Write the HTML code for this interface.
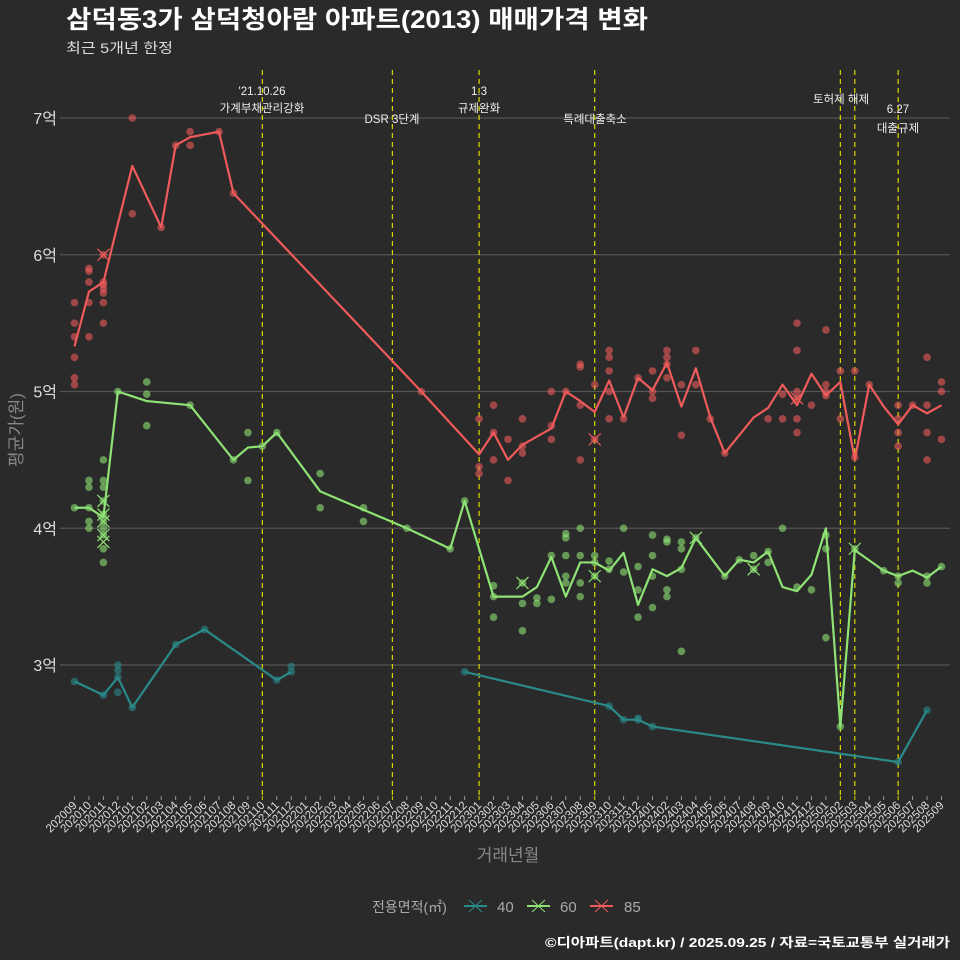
<!DOCTYPE html>
<html><head><meta charset="utf-8">
<style>
html,body{margin:0;padding:0;background:#2a2a2a;}
svg{display:block;font-family:"Liberation Sans","Noto Sans CJK KR",sans-serif;}
</style></head>
<body>
<svg id="chart" width="960" height="960" viewBox="0 0 960 960" xmlns="http://www.w3.org/2000/svg">
<rect width="960" height="960" fill="#2a2a2a"/>
<text x="66" y="28" fill="#fff" font-size="25" font-weight="bold" textLength="582" lengthAdjust="spacingAndGlyphs">삼덕동3가 삼덕청아람 아파트(2013) 매매가격 변화</text>
<text x="66" y="53" fill="#ddd" font-size="14" textLength="107" lengthAdjust="spacingAndGlyphs">최근 5개년 한정</text>
<g id="grid"></g>
<g id="vlines"></g>
<g id="series"></g>
<g id="xaxis"></g>
<text x="0" y="0" transform="translate(22,430) rotate(-90)" text-anchor="middle" fill="#888" font-size="17">평균가(원)</text>
<text x="508" y="861" text-anchor="middle" fill="#888" font-size="17">거래년월</text>
<g>
<text x="372" y="912" fill="#aaa" font-size="14">전용면적(㎡)</text>
<g><line x1="464" y1="906" x2="487" y2="906" stroke="#2a8a8a" stroke-width="2"/><line x1="469" y1="900" x2="482" y2="912" stroke="#2a8a8a"/><line x1="469" y1="912" x2="482" y2="900" stroke="#2a8a8a"/><text x="497" y="912" fill="#aaa" font-size="15">40</text></g>
<g><line x1="527" y1="906" x2="550" y2="906" stroke="#8fe375" stroke-width="2"/><line x1="532" y1="900" x2="545" y2="912" stroke="#8fe375"/><line x1="532" y1="912" x2="545" y2="900" stroke="#8fe375"/><text x="560" y="912" fill="#aaa" font-size="15">60</text></g>
<g><line x1="590" y1="906" x2="613" y2="906" stroke="#ef5b5b" stroke-width="2"/><line x1="595" y1="900" x2="608" y2="912" stroke="#ef5b5b"/><line x1="595" y1="912" x2="608" y2="900" stroke="#ef5b5b"/><text x="624" y="912" fill="#aaa" font-size="15">85</text></g>
</g>
<text x="545" y="947" fill="#fff" font-size="13" font-weight="bold" textLength="405" lengthAdjust="spacingAndGlyphs">©디아파트(dapt.kr) / 2025.09.25 / 자료=국토교통부 실거래가</text>
</svg>
<script>
const months=[];
for(let y=2020,m=9;months.length<61;){months.push(y+String(m).padStart(2,'0'));m++;if(m>12){m=1;y++;}}
const yTicks=[3,4,5,6,7];
const yTickLabels=['3억','4억','5억','6억','7억'];
const eventIdx=[13,22,28,36,53,54,57];
const line40aIdx=[0,2,3,4,7,9,14,15];
const line40aVal=[2.88,2.78,2.91,2.69,3.15,3.26,2.89,2.95];
const line40bIdx=[27,37,38,39,40,57,59];
const line40bVal=[2.95,2.70,2.60,2.60,2.55,2.29,2.67];
const pts40Idx=[0,2,3,3,3,3,4,7,9,14,15,15,27,37,38,39,39,40,57,59];
const pts40Val=[2.88,2.78,3.0,2.96,2.91,2.8,2.69,3.15,3.26,2.89,2.99,2.95,2.95,2.7,2.6,2.6,2.61,2.55,2.29,2.67];
const line60Idx=[0,1,2,3,5,8,11,12,13,14,17,23,26,27,29,31,32,33,34,35,36,37,38,39,40,41,42,43,45,46,47,48,49,50,51,52,53,54,56,57,58,59,60];
const line60Val=[4.15,4.15,4.08,5.0,4.93,4.90,4.50,4.59,4.60,4.70,4.27,4.0,3.85,4.2,3.5,3.5,3.57,3.79,3.5,3.75,3.75,3.69,3.82,3.44,3.70,3.65,3.71,3.93,3.65,3.77,3.75,3.83,3.57,3.54,3.66,4.0,2.55,3.84,3.69,3.65,3.69,3.64,3.72];
const pts60Idx=[0,1,1,1,1,1,2,2,2,2,2,2,2,2,2,2,3,5,5,5,8,11,12,12,13,14,17,17,20,20,23,26,27,29,29,29,31,31,31,32,32,33,33,34,34,34,34,34,35,35,35,35,36,36,36,37,37,38,38,39,39,39,40,40,40,40,41,41,41,41,42,42,42,42,43,45,46,47,47,48,48,49,50,51,52,52,52,53,54,56,57,57,59,59,60];
const pts60Val=[4.15,4.35,4.3,4.15,4.05,4.0,4.5,4.35,4.3,4.2,4.1,4.05,4.0,3.95,3.85,3.75,5.0,5.07,4.98,4.75,4.9,4.5,4.7,4.35,4.6,4.7,4.4,4.15,4.15,4.05,4.0,3.85,4.2,3.58,3.5,3.35,3.6,3.45,3.25,3.49,3.45,3.8,3.48,3.96,3.93,3.8,3.65,3.6,4.0,3.8,3.6,3.5,3.8,3.75,3.65,3.76,3.7,4.0,3.68,3.72,3.55,3.35,3.95,3.8,3.65,3.42,3.92,3.9,3.55,3.5,3.9,3.85,3.7,3.1,3.93,3.65,3.77,3.8,3.7,3.83,3.75,4.0,3.57,3.55,3.95,3.85,3.2,2.55,3.85,3.69,3.65,3.6,3.65,3.6,3.72];
const line85Idx=[0,1,2,4,6,7,8,10,11,24,28,29,30,31,33,34,35,36,37,38,39,40,41,42,43,44,45,47,48,49,50,51,52,53,54,55,56,57,58,59,60];
const line85Val=[5.33,5.73,5.80,6.65,6.2,6.80,6.86,6.90,6.45,5.0,4.54,4.70,4.50,4.61,4.73,5.0,4.93,4.85,5.08,4.81,5.10,5.01,5.21,4.89,5.17,4.81,4.55,4.81,4.88,5.05,4.90,5.13,4.97,5.07,4.50,5.05,4.89,4.76,4.90,4.84,4.90];
const pts85Idx=[0,0,0,0,0,0,1,1,1,1,1,2,2,2,2,2,2,2,4,4,6,7,8,8,10,11,24,28,28,28,29,29,29,30,30,31,31,31,33,33,33,34,35,35,35,35,36,36,37,37,37,37,37,38,39,40,40,40,41,41,41,41,42,42,43,43,44,45,48,49,49,50,50,50,50,50,50,51,52,52,52,52,53,53,54,54,55,57,57,57,57,58,59,59,59,59,60,60,60];
const pts85Val=[5.65,5.5,5.4,5.25,5.1,5.05,5.9,5.88,5.8,5.65,5.4,6.0,5.8,5.78,5.75,5.72,5.65,5.5,7.0,6.3,6.2,6.8,6.9,6.8,6.9,6.45,5.0,4.8,4.45,4.4,4.9,4.7,4.5,4.65,4.35,4.8,4.6,4.55,5.0,4.75,4.65,5.0,5.2,5.18,4.9,4.5,5.05,4.65,5.3,5.25,5.15,5.0,4.8,4.8,5.1,5.15,5.0,4.95,5.3,5.25,5.2,5.1,5.05,4.68,5.3,5.05,4.8,4.55,4.8,4.98,4.8,5.5,5.3,5.0,4.95,4.8,4.7,4.9,5.45,5.05,5.0,4.97,5.15,4.8,5.15,4.52,5.05,4.9,4.8,4.7,4.6,4.9,5.25,4.9,4.7,4.5,5.07,5.0,4.65];
const crossIdx=[2,2,2,2,2,31,36,43,47,54,2,36,50];
const crossVal=[4.2,4.1,4.05,3.95,3.9,3.6,3.65,3.93,3.7,3.85,6.0,4.65,4.95];
const crossSer=['60','60','60','60','60','60','60','60','60','60','85','85','85'];

const NS='http://www.w3.org/2000/svg';
const X=i=>74.5+i*14.45;
const Y=v=>118+(7-v)*136.75;
function mk(parent,tag,attrs){const e=document.createElementNS(NS,tag);for(const k in attrs)e.setAttribute(k,attrs[k]);parent.appendChild(e);return e;}
const grid=document.getElementById('grid');
yTicks.forEach((t,i)=>{
  const l=mk(grid,'line',{x1:60,x2:950,y1:Y(t),y2:Y(t),stroke:'#555','stroke-width':1.2});
  
  
  const tx=mk(grid,'text',{x:57,y:Y(t)+6,'text-anchor':'end',fill:'#ddd','font-size':16});
  tx.textContent=yTickLabels[i];
  
  
});
const vl=document.getElementById('vlines');
eventIdx.forEach(i=>{
  const l=mk(vl,'line',{x1:X(i),x2:X(i),y1:70,y2:796,stroke:'#d8d800','stroke-width':1.2,'stroke-dasharray':'5,4'});
  
  
});
const annTexts=[["'21.10.26",262,95],["가계부채관리강화",262,112],["DSR 3단계",392,123],["1.3",479,95],["규제완화",479,112],["특례대출축소",595,123],["토허제 해제",841,103],["6.27",898,113],["대출규제",898,132]];
annTexts.forEach(a=>{
  const t=mk(vl,'text',{x:a[1],y:a[2],'text-anchor':'middle',fill:'#eee','font-size':11.5});
  t.textContent=a[0];
  
  
});
const xa=document.getElementById('xaxis');
months.forEach((m,i)=>{
  const isEv=eventIdx.includes(i);
  const tk=mk(xa,'line',{x1:X(i),x2:X(i),y1:796,y2:800,stroke:isEv?'#d8d800':'#999'});
  
  
  const t=mk(xa,'text',{x:0,y:0,transform:`translate(${X(i)+3},${806}) rotate(-45)`,'text-anchor':'end',fill:'#ddd','font-size':11.5});
  t.textContent=m;
  
  
});
const colors={'40':'#2a8a8a','60':'#8fe375','85':'#ef5b5b'};
const sg=document.getElementById('series');
function drawLine(ser,idx,val){
  const pts=idx.map((ix,k)=>X(ix)+','+Y(val[k])).join(' ');
  const pl=mk(sg,'polyline',{points:pts,fill:'none',stroke:colors[ser],'stroke-width':2.2,'stroke-linejoin':'round'});
  
  
}
function drawPts(ser,idx,val){
  idx.forEach((ix,k)=>{
    const p=mk(sg,'circle',{cx:X(ix),cy:Y(val[k]),r:3.8,fill:colors[ser],'fill-opacity':0.6});
    
    
  });
}
drawPts('40',pts40Idx,pts40Val);drawLine('40',line40aIdx,line40aVal);drawLine('40',line40bIdx,line40bVal);
drawPts('60',pts60Idx,pts60Val);drawLine('60',line60Idx,line60Val);
drawPts('85',pts85Idx,pts85Val);drawLine('85',line85Idx,line85Val);
crossIdx.forEach((ix,k)=>{
  const c=colors[crossSer[k]];const x=X(ix),y=Y(crossVal[k]);
  const g=mk(sg,'g',{});
  
  
  mk(g,'line',{x1:x-6,y1:y-6,x2:x+6,y2:y+6,stroke:c,'stroke-width':1.2});
  mk(g,'line',{x1:x-6,y1:y+6,x2:x+6,y2:y-6,stroke:c,'stroke-width':1.2});
});
</script>
</body></html>
